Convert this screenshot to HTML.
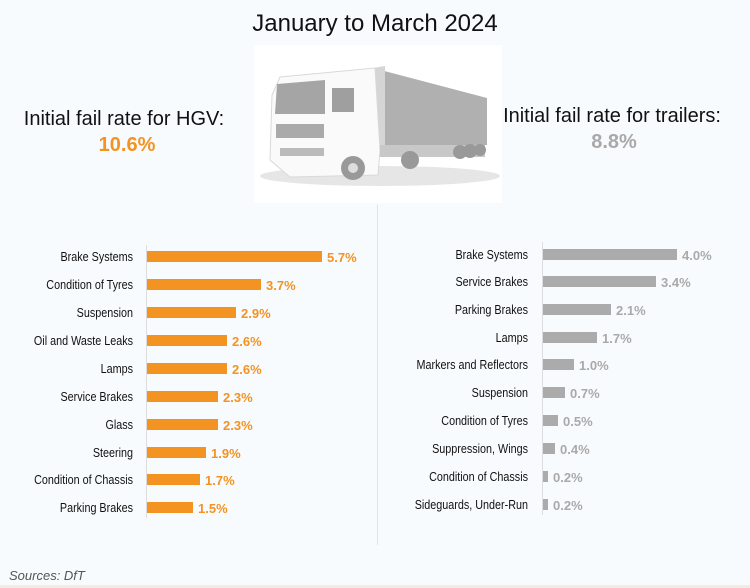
<!DOCTYPE html>
<html><head><meta charset="utf-8"><style>
body{margin:0;width:750px;height:588px;background:#f8fbfd;font-family:"Liberation Sans",sans-serif;overflow:hidden;position:relative}
svg{position:absolute;left:0;top:0}
</style></head><body>
<svg width="750" height="588" font-family="Liberation Sans, sans-serif">
<rect x="0" y="585" width="750" height="3" fill="#f3ebe2"/>
<text x="375" y="31" text-anchor="middle" font-size="24" fill="#111">January to March 2024</text>
<rect x="254" y="45" width="248" height="158" fill="#ffffff"/>
<g>
<ellipse cx="380" cy="176" rx="120" ry="10" fill="#e6e6e6"/>
<polygon points="373,68 487,98 487,145 380,147" fill="#b0b0b0"/>
<polygon points="373,68 385,66 385,147 378,147" fill="#d5d5d5"/>
<polygon points="280,77 375,68 380,150 378,175 290,177 270,160 272,95" fill="#fafafa" stroke="#d9d9d9"/>
<polygon points="277,84 325,80 325,114 275,114" fill="#a5a5a5"/>
<rect x="332" y="88" width="22" height="24" fill="#9f9f9f"/>
<rect x="276" y="124" width="48" height="14" fill="#aaa"/>
<rect x="280" y="148" width="44" height="8" fill="#bbb"/>
<rect x="380" y="145" width="105" height="12" fill="#c8c8c8"/>
<circle cx="353" cy="168" r="12" fill="#999"/><circle cx="353" cy="168" r="5" fill="#ddd"/>
<circle cx="410" cy="160" r="9" fill="#999"/>
<circle cx="460" cy="152" r="7" fill="#999"/><circle cx="470" cy="151" r="7" fill="#999"/><circle cx="480" cy="150" r="6" fill="#999"/>
</g>
<text x="124" y="125" text-anchor="middle" font-size="20" fill="#111">Initial fail rate for HGV:</text>
<text x="127" y="151" text-anchor="middle" font-size="20" font-weight="bold" fill="#f39322">10.6%</text>
<text x="612" y="122" text-anchor="middle" font-size="20" fill="#111">Initial fail rate for trailers:</text>
<text x="614" y="148" text-anchor="middle" font-size="20" font-weight="bold" fill="#a9a9a9">8.8%</text>
<line x1="377.5" y1="205" x2="377.5" y2="545" stroke="#e3e3e3"/>
<line x1="146.5" y1="245" x2="146.5" y2="518" stroke="#ddd"/>
<line x1="542.5" y1="242" x2="542.5" y2="515" stroke="#ddd"/>
<g font-size="13" fill="#111" text-anchor="end" transform="translate(133,0) scale(0.83,1) translate(-133,0)">
<text x="133" y="261">Brake Systems</text>
<text x="133" y="289">Condition of Tyres</text>
<text x="133" y="317">Suspension</text>
<text x="133" y="345">Oil and Waste Leaks</text>
<text x="133" y="373">Lamps</text>
<text x="133" y="401">Service Brakes</text>
<text x="133" y="429">Glass</text>
<text x="133" y="457">Steering</text>
<text x="133" y="484">Condition of Chassis</text>
<text x="133" y="512">Parking Brakes</text>
</g>
<g font-size="13" fill="#111" text-anchor="end" transform="translate(528,0) scale(0.83,1) translate(-528,0)">
<text x="528" y="259">Brake Systems</text>
<text x="528" y="286">Service Brakes</text>
<text x="528" y="314">Parking Brakes</text>
<text x="528" y="342">Lamps</text>
<text x="528" y="369">Markers and Reflectors</text>
<text x="528" y="397">Suspension</text>
<text x="528" y="425">Condition of Tyres</text>
<text x="528" y="453">Suppression, Wings</text>
<text x="528" y="481">Condition of Chassis</text>
<text x="528" y="509">Sideguards, Under-Run</text>
</g>
<g fill="#f39322">
<rect x="147" y="251" width="175" height="11"/>
<rect x="147" y="279" width="114" height="11"/>
<rect x="147" y="307" width="89" height="11"/>
<rect x="147" y="335" width="80" height="11"/>
<rect x="147" y="363" width="80" height="11"/>
<rect x="147" y="391" width="71" height="11"/>
<rect x="147" y="419" width="71" height="11"/>
<rect x="147" y="447" width="59" height="11"/>
<rect x="147" y="474" width="53" height="11"/>
<rect x="147" y="502" width="46" height="11"/>
</g>
<g fill="#f39322" font-size="13" font-weight="bold">
<text x="327" y="262">5.7%</text>
<text x="266" y="290">3.7%</text>
<text x="241" y="318">2.9%</text>
<text x="232" y="346">2.6%</text>
<text x="232" y="374">2.6%</text>
<text x="223" y="402">2.3%</text>
<text x="223" y="430">2.3%</text>
<text x="211" y="458">1.9%</text>
<text x="205" y="485">1.7%</text>
<text x="198" y="513">1.5%</text>
</g>
<g fill="#ababab">
<rect x="543" y="249" width="134" height="11"/>
<rect x="543" y="276" width="113" height="11"/>
<rect x="543" y="304" width="68" height="11"/>
<rect x="543" y="332" width="54" height="11"/>
<rect x="543" y="359" width="31" height="11"/>
<rect x="543" y="387" width="22" height="11"/>
<rect x="543" y="415" width="15" height="11"/>
<rect x="543" y="443" width="12" height="11"/>
<rect x="543" y="471" width="5" height="11"/>
<rect x="543" y="499" width="5" height="11"/>
</g>
<g fill="#a9a9a9" font-size="13" font-weight="bold">
<text x="682" y="260">4.0%</text>
<text x="661" y="287">3.4%</text>
<text x="616" y="315">2.1%</text>
<text x="602" y="343">1.7%</text>
<text x="579" y="370">1.0%</text>
<text x="570" y="398">0.7%</text>
<text x="563" y="426">0.5%</text>
<text x="560" y="454">0.4%</text>
<text x="553" y="482">0.2%</text>
<text x="553" y="510">0.2%</text>
</g>
<text x="9" y="580" font-size="13" font-style="italic" fill="#555">Sources: DfT</text>
</svg>
</body></html>
